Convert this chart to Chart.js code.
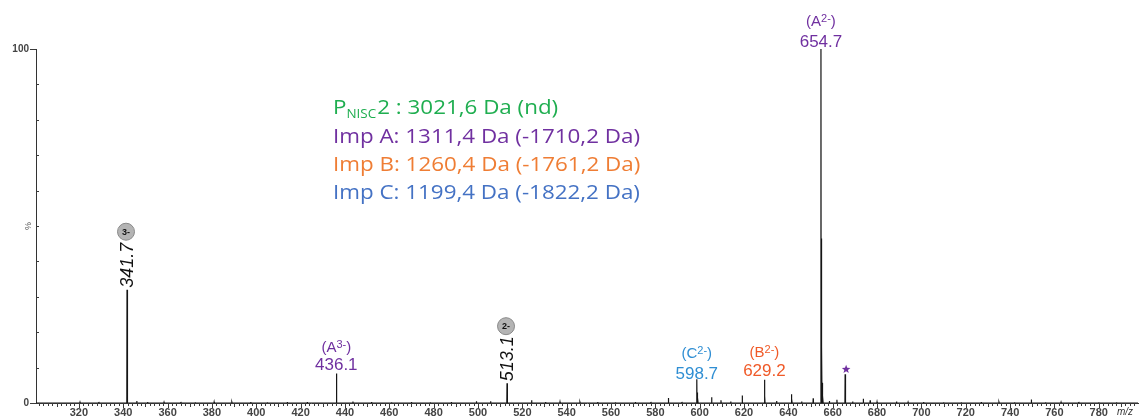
<!DOCTYPE html>
<html>
<head>
<meta charset="utf-8">
<script src="https://cdn.jsdelivr.net/npm/chart.js@4.4.1/dist/chart.umd.min.js"></script>
<style>
html,body{margin:0;padding:0;background:#fff;}
#wrap{width:1143px;height:418px;}
</style>
</head>
<body>
<div id="wrap"><canvas id="c" width="1143" height="418"></canvas></div>
<script>
// ---- data (m/z, relative intensity %) ----
const peakMz = [
  320.5, 329.0, 341.7, 341.85, 342.0, 346.1, 351.0, 358.4, 366.0, 372.5, 381.0, 389.0, 397.5, 405.0, 414.0, 423.0,
  436.1, 436.3, 443.6, 452.0, 461.0, 470.0, 478.5, 488.0, 499.3, 505.7, 513.1, 513.3, 524.2, 530.5, 537.0, 546.0,
  554.0, 562.0, 571.0, 578.0, 585.9, 592.0, 598.7, 598.9, 599.2, 605.4, 609.6, 614.0, 619.2, 629.2, 629.4, 634.7,
  641.3, 641.6, 646.0, 651.2, 654.7, 654.9, 655.1, 655.3, 655.6, 658.5, 661.9, 665.6, 665.8, 669.0, 673.8, 676.9,
  680.0, 688.8, 694.0, 701.0, 710.0, 718.0, 727.0, 735.0, 742.0, 749.6, 756.0, 763.0, 771.0, 780.0, 788.0
];
const peakIntensity = [
  0.2, 0.3, 32.0, 22.0, 4.0, 0.6, 0.3, 0.2, 0.3, 0.2, 0.3, 0.2, 0.3, 0.2, 0.3, 0.3,
  8.3, 3.0, 0.4, 0.3, 0.2, 0.3, 0.2, 0.3, 0.5, 0.5, 5.6, 2.0, 0.8, 0.3, 0.3, 0.2,
  0.3, 0.2, 0.3, 0.3, 1.4, 0.3, 6.7, 3.0, 1.5, 1.6, 0.8, 0.4, 2.1, 6.6, 2.0, 0.6,
  2.5, 1.2, 0.4, 1.3, 100.0, 46.5, 16.0, 5.7, 2.0, 0.6, 0.9, 8.1, 2.2, 0.4, 1.2, 0.8,
  0.3, 0.4, 0.2, 0.3, 0.2, 0.2, 0.3, 0.2, 0.2, 1.0, 0.2, 0.2, 0.3, 0.2, 0.2
];
const xTickLabels = [320,340,360,380,400,420,440,460,480,500,520,540,560,580,600,620,640,660,680,700,720,740,760,780];
const yTickLabels = [0, 100];

// labelled peaks
const labelMz    = [654.7, 436.1, 598.7, 629.2];
const labelIon   = ['A', 'A', 'C', 'B'];
const labelCharge= ['2-', '3-', '2-', '2-'];
const labelText  = ['654.7', '436.1', '598.7', '629.2'];
const labelColor = ['#7030a0', '#7030a0', '#2f8ed3', '#f05a28'];

const rotMz     = [341.7, 513.1];
const rotText   = ['341.7', '513.1'];
const rotCharge = ['3-', '2-'];

const legendLines = [
  {main:'P', sub:'NISC', rest:'2 : 3021,6 Da (nd)', color:'#1fae50'},
  {main:'Imp A: 1311,4 Da (-1710,2 Da)', color:'#7030a0'},
  {main:'Imp B: 1260,4 Da (-1761,2 Da)', color:'#ef7d34'},
  {main:'Imp C: 1199,4 Da (-1822,2 Da)', color:'#4472c4'}
];

// build profile points from peak list
const pts = [];
pts.push({x:300, y:0});
for (let i = 0; i < peakMz.length; i++) {
  const m = peakMz[i], h = peakIntensity[i];
  pts.push({x:m-0.09, y:0});
  pts.push({x:m, y:h});
  pts.push({x:m+0.09, y:0});
}
pts.push({x:800, y:0});
pts.sort((a,b)=>a.x-b.x);

const FONT = '"Liberation Sans", Arial, sans-serif';

const deco = {
  id:'deco',
  afterDraw(chart){
    const ctx = chart.ctx, xs = chart.scales.x, ys = chart.scales.y;
    const ca = chart.chartArea;
    ctx.save();
    // x ticks
    ctx.strokeStyle = '#3a3a3a';
    ctx.lineWidth = 1;
    ctx.beginPath();
    for (let v = 302; v <= 796; v += 2) {
      const px = Math.round(xs.getPixelForValue(v)) + 0.5;
      const len = (v % 20 === 0) ? 5 : (v % 10 === 0 ? 4 : 3);
      ctx.moveTo(px, ca.bottom);
      ctx.lineTo(px, ca.bottom + len);
    }
    // y ticks
    for (let v = 0; v <= 100; v += 10) {
      const py = Math.round(ys.getPixelForValue(v)) + 0.5;
      if (v === 0 || v === 100) { ctx.moveTo(ca.left - 6, py); ctx.lineTo(ca.left, py); }
      else { ctx.moveTo(ca.left, py); ctx.lineTo(ca.left + 3, py); }
    }
    ctx.stroke();

    // % label
    ctx.fillStyle = '#555';
    ctx.font = '9px ' + FONT;
    ctx.save();
    ctx.translate(29, ys.getPixelForValue(50));
    ctx.rotate(-Math.PI/2);
    ctx.textAlign = 'center'; ctx.textBaseline = 'middle';
    ctx.fillText('%', 0, 0);
    ctx.restore();

    // m/z
    ctx.fillStyle = '#333';
    ctx.font = 'italic 10px ' + FONT;
    ctx.textAlign = 'left'; ctx.textBaseline = 'middle';
    ctx.fillText('m/z', 1117, 412);

    // horizontal peak labels
    const labelDy = [[-27, -7], [-26, -8], [-25, -5], [-27, -8]];
    for (let i = 0; i < labelMz.length; i++) {
      const px = xs.getPixelForValue(labelMz[i]);
      const idx = peakMz.indexOf(labelMz[i]);
      const py = ys.getPixelForValue(peakIntensity[idx]);
      ctx.fillStyle = labelColor[i];
      ctx.textBaseline = 'middle';
      // number
      ctx.font = '17px ' + FONT;
      ctx.textAlign = 'center';
      ctx.fillText(labelText[i], px, py + labelDy[i][1]);
      // ion label "(X" sup ")"
      const y1 = py + labelDy[i][0];
      const f1 = '15px ' + FONT, f2 = '11px ' + FONT;
      ctx.font = f1; const w1 = ctx.measureText('(' + labelIon[i]).width; const w3 = ctx.measureText(')').width;
      ctx.font = f2; const w2 = ctx.measureText(labelCharge[i]).width;
      let sx = px - (w1 + w2 + w3) / 2;
      ctx.textAlign = 'left';
      ctx.font = f1; ctx.fillText('(' + labelIon[i], sx, y1); sx += w1;
      ctx.font = f2; ctx.fillText(labelCharge[i], sx, y1 - 3); sx += w2;
      ctx.font = f1; ctx.fillText(')', sx, y1);
    }

    // rotated labels + charge circles
    const circleGap = [58, 57];
    for (let i = 0; i < rotMz.length; i++) {
      const px = xs.getPixelForValue(rotMz[i]);
      const idx = peakMz.indexOf(rotMz[i]);
      const py = ys.getPixelForValue(peakIntensity[idx]);
      ctx.save();
      ctx.translate(px + 1, py - 2);
      ctx.rotate(-Math.PI/2);
      ctx.fillStyle = '#111';
      ctx.font = 'italic 18px ' + FONT;
      ctx.textAlign = 'left'; ctx.textBaseline = 'middle';
      ctx.fillText(rotText[i], 0, 0);
      ctx.restore();
      const cx = px - 1, cy = py - circleGap[i];
      ctx.beginPath();
      ctx.arc(cx, cy, 8.5, 0, Math.PI*2);
      ctx.fillStyle = '#b4b4b4'; ctx.fill();
      ctx.strokeStyle = '#8a8a8a'; ctx.lineWidth = 1; ctx.stroke();
      ctx.fillStyle = '#111';
      ctx.font = 'bold 9px ' + FONT;
      ctx.textAlign = 'center'; ctx.textBaseline = 'middle';
      ctx.fillText(rotCharge[i], cx, cy + 0.5);
    }

    // star
    {
      const px = xs.getPixelForValue(665.6);
      const py = ys.getPixelForValue(8.1);
      ctx.fillStyle = '#7030a0';
      ctx.beginPath();
      const r1 = 4.5, r2 = 1.9, cx = px + 1, cy = py - 5;
      for (let k = 0; k < 10; k++) {
        const r = k % 2 === 0 ? r1 : r2;
        const a = -Math.PI/2 + k * Math.PI/5;
        const X = cx + r*Math.cos(a), Y = cy + r*Math.sin(a);
        if (k === 0) ctx.moveTo(X, Y); else ctx.lineTo(X, Y);
      }
      ctx.closePath(); ctx.fill();
    }

    // legend block (stretched horizontally to the reference width)
    const LF = '"Open Sans", sans-serif';
    const baseY = [114, 143, 171, 199];
    ctx.font = '20px ' + LF;
    const refW = ctx.measureText(legendLines[1].main).width;
    const sxf = 307 / refW;
    ctx.save();
    ctx.translate(333, 0);
    ctx.scale(sxf, 1);
    ctx.textAlign = 'left'; ctx.textBaseline = 'alphabetic';
    for (let i = 0; i < legendLines.length; i++) {
      const L = legendLines[i];
      ctx.fillStyle = L.color;
      let x = 0;
      ctx.font = '20px ' + LF;
      ctx.fillText(L.main, x, baseY[i]);
      if (L.sub) {
        x += ctx.measureText(L.main).width;
        ctx.font = '12px ' + LF;
        ctx.fillText(L.sub, x, baseY[i] + 4);
        x += ctx.measureText(L.sub).width + 1;
        ctx.font = '20px ' + LF;
        ctx.fillText(L.rest, x, baseY[i]);
      }
    }
    ctx.restore();
    ctx.restore();
  }
};

new Chart(document.getElementById('c'), {
  type: 'line',
  data: {
    datasets: [{
      data: pts,
      borderColor: '#151515',
      borderWidth: 1.2,
      pointRadius: 0,
      tension: 0,
      fill: false
    }]
  },
  options: {
    responsive: false,
    animation: false,
    devicePixelRatio: 1,
    parsing: false,
    layout: { padding: { top: 49, right: 5, left: 0, bottom: 0 } },
    plugins: { legend: { display: false }, tooltip: { enabled: false } },
    scales: {
      x: {
        type: 'linear',
        min: 300.65,
        max: 797.7,
        grid: { display: false, drawTicks: false },
        border: { display: true, color: '#333', width: 1 },
        afterBuildTicks: s => { s.ticks = xTickLabels.map(v => ({ value: v })); },
        afterFit: s => { s.height = 15; },
        ticks: {
          autoSkip: false, maxRotation: 0, padding: 3,
          color: '#444',
          font: { size: 11, family: FONT, weight: 'bold' }
        }
      },
      y: {
        min: 0,
        max: 100,
        grid: { display: false, drawTicks: false },
        border: { display: true, color: '#333', width: 1 },
        afterBuildTicks: s => { s.ticks = yTickLabels.map(v => ({ value: v })); },
        afterFit: s => { s.width = 36; },
        ticks: {
          padding: 7,
          color: '#444',
          font: { size: 10, family: FONT, weight: 'bold' }
        }
      }
    }
  },
  plugins: [deco]
});
</script>
</body>
</html>
